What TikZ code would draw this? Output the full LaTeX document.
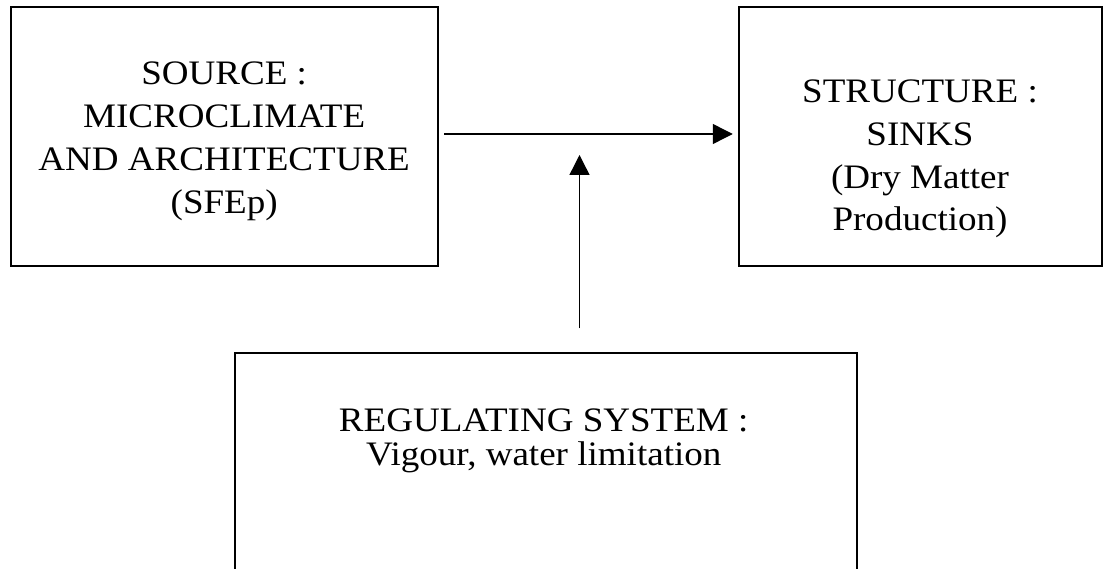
\documentclass[tikz,border=0pt]{standalone}
\usepackage{fontspec}
\setmainfont{Liberation Serif}[FakeStretch=1.08]
\usetikzlibrary{arrows.meta}
\begin{document}
\begin{tikzpicture}[x=1pt,y=-1pt,
  box/.style={draw, line width=1.8pt, inner sep=0pt, outer sep=0pt, rectangle},
  txt/.style={align=center, inner sep=0pt, font=\fontsize{34.3}{42.8}\selectfont},
  txtb/.style={align=center, inner sep=0pt, font=\fontsize{34.3}{34}\selectfont},
  arr/.style={line width=1.4pt, -{Triangle[length=20pt,width=20pt]}}]
\useasboundingbox (0,0) rectangle (1108,569);
\clip (0,0) rectangle (1108,569);
\node[box, minimum width=427pt, minimum height=259pt] (src) at (224.2,136.2) {};
\node[box, minimum width=363.3pt, minimum height=258.7pt] (snk) at (920.7,136.3) {};
\node[box, minimum width=622pt, minimum height=267.3pt] (reg) at (545.7,486.35) {};
\node[txt] (srct) at (224.2,141.3) {SOURCE :\\MICROCLIMATE\\AND ARCHITECTURE\\(SFEp)};
\node[txt] (snkt) at (920,159) {STRUCTURE :\\SINKS\\(Dry Matter\\Production)};
\node[txtb] (regt) at (543.7,440.8) {REGULATING SYSTEM :\\Vigour, water limitation};
\coordinate (mid) at (579.5,134);
\draw[arr] ([xshift=6.6pt,yshift=2.2pt]src.east) -- ([xshift=-6.3pt,yshift=2.3pt]snk.west);
\draw[arr] ([xshift=33.8pt,yshift=24.4pt]reg.north) -- ([yshift=-21pt]mid);
\end{tikzpicture}
\end{document}
